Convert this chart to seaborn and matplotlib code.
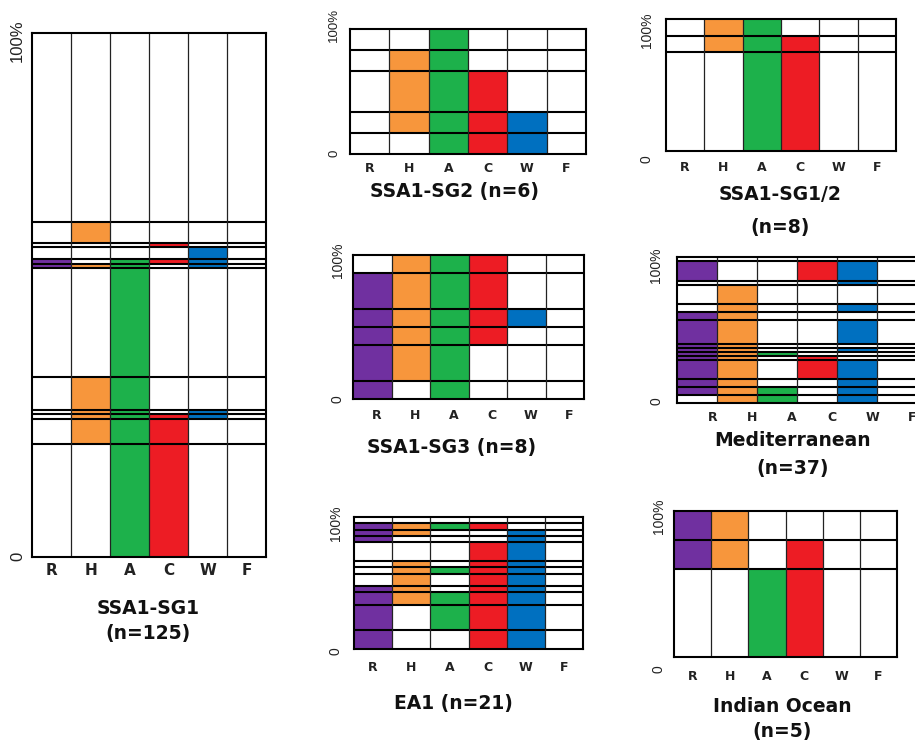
import matplotlib
matplotlib.use("Agg")
import matplotlib.pyplot as plt
from matplotlib.colors import ListedColormap
from matplotlib.transforms import ScaledTranslation
import numpy as np
import pandas as pd
import seaborn as sns

sns.set_theme(style="white")
plt.rcParams["font.family"] = ["DejaVu Sans"]

# ---------------- data ----------------
genes = ["R", "H", "A", "C", "W", "F"]
gene_colors = ["#7030A0", "#F7963C", "#1DB14B", "#ED1C24", "#0070C0", "#7F7F7F"]

# profiles listed from top (100%) to bottom (0); counts = number of isolates
sg1_profiles = ["", "H", "C", "W", "RACW", "RHAW", "A", "HA", "HAW", "HACW", "HAC", "AC"]
sg1_counts = [45, 5, 1, 3, 1, 1, 26, 8, 1, 1, 6, 27]

sg2_profiles = ["A", "HA", "HAC", "HACW", "ACW"]
sg2_counts = [1, 1, 2, 1, 1]

sg12_profiles = ["HA", "HAC", "AC"]
sg12_counts = [1, 1, 6]

sg3_profiles = ["HAC", "RHAC", "RHACW", "RHAC", "RHA", "RA"]
sg3_counts = [1, 2, 1, 1, 2, 1]

med_profiles = ["", "RCW", "W", "H", "HW", "RH", "RHW", "RH", "RHW", "RHA",
                "RHC", "RHCW", "RHW", "RHAW", "HAW"]
med_counts = [1, 5, 1, 5, 2, 2, 6, 1, 1, 1, 1, 5, 2, 2, 2]

ea1_profiles = ["", "RHAC", "RHW", "RW", "CW", "HCW", "HACW", "HCW", "RHCW",
                "RHACW", "RACW", "RCW"]
ea1_counts = [1, 1, 1, 1, 3, 1, 1, 2, 1, 2, 4, 3]

io_profiles = ["RH", "RHC", "AC"]
io_counts = [1, 1, 3]

titles = {
    "sg1": ["SSA1-SG1", "(n=125)"],
    "sg2": ["SSA1-SG2 (n=6)"],
    "sg12": ["SSA1-SG1/2", "(n=8)"],
    "sg3": ["SSA1-SG3 (n=8)"],
    "med": ["Mediterranean", "(n=37)"],
    "ea1": ["EA1 (n=21)"],
    "io": ["Indian Ocean", "(n=5)"],
}

# ---------------- layout (pixels) ----------------
W, H = 915, 749
fig = plt.figure(figsize=(W / 100, H / 100), dpi=100)
fig.patch.set_facecolor("white")

cmap = ListedColormap(["white"] + gene_colors)


def px_rect(x0, y0, x1, y1):
    return [x0 / W, 1 - y1 / H, (x1 - x0) / W, (y1 - y0) / H]


def panel(profiles, counts, rect, title_lines, title_xy, title_dy,
          ysize=10, xsize=9, xpad=6, ypad=6, top_dy=5, bot_dy=0, xshift=0.0):
    ax = fig.add_axes(px_rect(*rect))
    rows = []
    for prof, cnt in zip(profiles, counts):
        vals = [(i + 1) if g in prof else 0 for i, g in enumerate(genes)]
        rows.extend([vals] * cnt)
    df = pd.DataFrame(rows, columns=genes)
    sns.heatmap(df, ax=ax, cmap=cmap, vmin=-0.5, vmax=6.5, cbar=False,
                xticklabels=True, yticklabels=False)
    n = len(df)
    bounds = np.cumsum(counts)[:-1]
    for b in bounds:
        ax.axhline(b, color="black", lw=1.5, zorder=3)
    for x in range(1, len(genes)):
        ax.axvline(x, color="#222222", lw=0.9, zorder=3)
    for s in ax.spines.values():
        s.set_visible(True)
        s.set_color("black")
        s.set_linewidth(1.5)
        s.set_zorder(4)
    ax.set_xticks(np.arange(len(genes)) + 0.5 + xshift)
    ax.set_xticklabels(genes, fontsize=xsize, fontweight="bold",
                       family=["DejaVu Sans"], rotation=0)
    ax.set_yticks([0, n])
    ax.set_yticklabels(["100%", "0"], rotation=90, va="center",
                       fontsize=ysize, family=["Liberation Sans", "DejaVu Sans"])
    ax.tick_params(axis="x", length=0, pad=xpad, colors="#222222")
    ax.tick_params(axis="y", length=0, pad=ypad, colors="#222222")
    labs = ax.get_yticklabels()
    labs[0].set_transform(labs[0].get_transform() +
                          ScaledTranslation(0, -top_dy / 100, fig.dpi_scale_trans))
    labs[1].set_transform(labs[1].get_transform() +
                          ScaledTranslation(0, -bot_dy / 100, fig.dpi_scale_trans))
    ax.set_xlabel("")
    ax.set_ylabel("")
    tx, ty = title_xy
    for i, line in enumerate(title_lines):
        fig.text(tx / W, 1 - (ty + i * title_dy) / H, line, ha="center", va="center",
                 fontsize=13.5, fontweight="bold", color="#111111",
                 family=["DejaVu Sans"])
    return ax


panel(sg1_profiles, sg1_counts, (32, 33, 266, 557), titles["sg1"], (148, 609), 25,
      ysize=12, xsize=11, xpad=4, ypad=5, top_dy=8, bot_dy=-1)
panel(sg2_profiles, sg2_counts, (350, 29, 586, 154), titles["sg2"], (454, 192), 0,
      ysize=9.5, xsize=9, xpad=6, ypad=7, top_dy=-4, bot_dy=-1)
panel(sg12_profiles, sg12_counts, (666, 19, 896, 151), titles["sg12"], (780, 195), 32,
      ysize=10, xsize=9, xpad=7, ypad=9, top_dy=11, bot_dy=8)
panel(sg3_profiles, sg3_counts, (353, 255, 584, 399), titles["sg3"], (452, 447), 0,
      ysize=10, xsize=9, xpad=7, ypad=6, top_dy=5, bot_dy=0, xshift=0.12)
panel(med_profiles, med_counts, (677, 257, 917, 403), titles["med"], (793, 441), 27,
      ysize=10, xsize=9, xpad=6, ypad=10, top_dy=8, bot_dy=-2, xshift=0.38)
panel(ea1_profiles, ea1_counts, (354, 517, 583, 649), titles["ea1"], (453, 703), 0,
      ysize=10, xsize=9, xpad=8.5, ypad=8, top_dy=6, bot_dy=2)
panel(io_profiles, io_counts, (674, 511, 897, 657), titles["io"], (782, 707), 25,
      ysize=10, xsize=9, xpad=9.5, ypad=6, top_dy=5, bot_dy=12)

fig.savefig("out.png", dpi=100, facecolor="white")
